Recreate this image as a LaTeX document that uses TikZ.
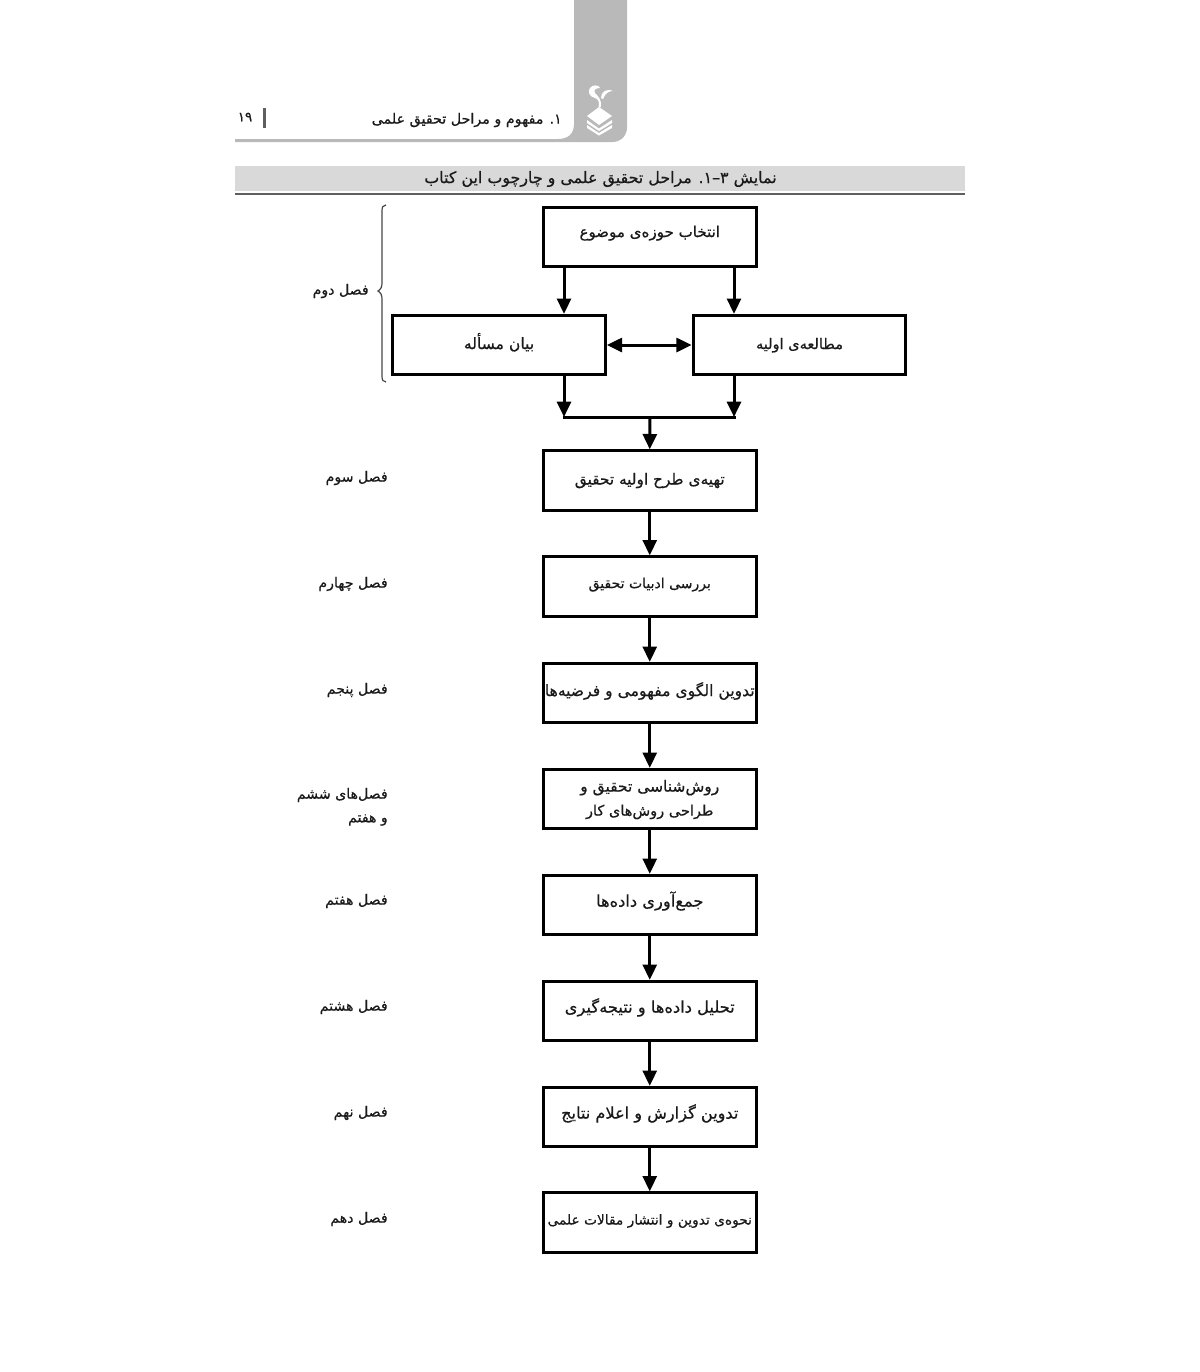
\documentclass[tikz,border=0pt]{standalone}
\usepackage{fontspec}
\usetikzlibrary{arrows.meta}
\TeXXeTstate=1
\newfontfamily\fa[Script=Arabic,FakeBold=0.5]{DejaVu Sans}
\definecolor{tabgray}{HTML}{B9B9B9}
\definecolor{bandgray}{HTML}{D9D9D9}
\definecolor{inkgray}{HTML}{1A1A1A}
\newcommand\fs[1]{\fontsize{#1}{#1}\selectfont}
% one line, size #1, baseline lifted by #2 over the centre of the box
\newcommand\boxline[3]{\makebox[0pt]{\raisebox{#2}[0pt][0pt]{\fs{#1}#3}}}
\tikzset{
  x=0.75pt,y=-0.75pt,
  stepbox/.style={draw=black,line width=2.25pt,fill=white,inner sep=0pt,font=\fa,text=inkgray},
  wide/.style={stepbox,minimum width=159.5pt,minimum height=44.5pt},
  arr/.style={line width=2.25pt,-{Triangle[length=11.5pt,width=10.5pt]}},
  both/.style={line width=2.25pt,{Triangle[length=11.5pt,width=10.5pt]}-{Triangle[length=11.5pt,width=10.5pt]}},
  side/.style={anchor=east,inner sep=0pt,font=\fa\fs{10.6},text=inkgray},
}
\begin{document}
\begin{tikzpicture}
\useasboundingbox (0,0) rectangle (1200,1372);
\fill[white] (0,0) rectangle (1200,1372);
% header
\fill[tabgray] (574,0) -- (574,124) .. controls (574,134) and (568,139) .. (558,139) -- (235,139) -- (235,142) -- (612,142) .. controls (621,142) and (627,136) .. (627,127) -- (627,0) -- cycle;
\fill[inkgray!70] (262.5,108) rectangle (265.5,128);
\node[anchor=center,inner sep=0pt,font=\fa\fs{10},text=inkgray] (pageno) at (245,117) {۱۹};
\node[anchor=east,inner sep=0pt,font=\fa\fs{10.7},text=inkgray] (runhead) at (562,120) {\beginR ۱. مفهوم و مراحل تحقیق علمی\endR};
% logo
\fill[white] (599,107) -- (612,116) -- (599,125) -- (587,116) -- cycle;
\fill[white] (587,120) -- (599,128.5) -- (612,120) -- (612,123) -- (599,131) -- (587,123) -- cycle;
\fill[white] (587,125) -- (599,133) -- (612,125) -- (612,128) -- (599,135.5) -- (587,128) -- cycle;
\fill[white] (598.5,107) .. controls (600,102) and (598,99) .. (595,98) .. controls (590,97) and (587,92) .. (590,88) .. controls (593,84) and (599,85) .. (600,88) .. controls (596,88) and (593,90) .. (595,93) .. controls (598,96) and (602,100) .. (601,107) -- cycle;
\fill[white] (601,98) .. controls (601,92) and (606,88) .. (613,91) .. controls (608,91) and (605,94) .. (603,99) -- cycle;
% caption band
\fill[bandgray] (235,166) rectangle (965,191);
\draw[inkgray!70,line width=0.9pt] (235,194) -- (965,194);
\node[inner sep=0pt,font=\fa\fs{11.9},text=inkgray] (caption) at (600.5,179) {\beginR نمایش ۳–۱. مراحل تحقیق علمی و چارچوب این کتاب\endR};
% boxes
\node[wide] (a)  at (649.75,237)   {\boxline{11.3}{0pt}{\beginR انتخاب حوزه‌ی موضوع\endR}};
\node[wide] (b)  at (499,345)   {\boxline{11.7}{-3pt}{\beginR بیان مسأله\endR}};
\node[wide] (c)  at (799.5,345) {\boxline{10.9}{-3pt}{\beginR مطالعه‌ی اولیه\endR}};
\node[wide] (d)  at (649.75,480.5) {\boxline{11.5}{-3pt}{\beginR تهیه‌ی طرح اولیه تحقیق\endR}};
\node[wide] (e)  at (649.75,586.5) {\boxline{10.5}{-1.25pt}{\beginR بررسی ادبیات تحقیق\endR}};
\node[wide] (f)  at (649.75,693)   {\boxline{11.7}{-2.25pt}{\beginR تدوین الگوی مفهومی و فرضیه‌ها\endR}};
\node[wide] (g)  at (649.75,799)   {\boxline{11.6}{5.5pt}{\beginR روش‌شناسی تحقیق و\endR}\boxline{10.9}{-12.5pt}{\beginR طراحی روش‌های کار\endR}};
\node[wide] (h)  at (649.75,905)   {\boxline{12.2}{-1.25pt}{\beginR جمع‌آوری داده‌ها\endR}};
\node[wide] (i)  at (649.75,1011)  {\boxline{12.2}{-1.25pt}{\beginR تحلیل داده‌ها و نتیجه‌گیری\endR}};
\node[wide] (j)  at (649.75,1117)  {\boxline{12.1}{-1.25pt}{\beginR تدوین گزارش و اعلام نتایج\endR}};
\node[wide] (k)  at (649.75,1222.5){\boxline{10.3}{-1.5pt}{\beginR نحوه‌ی تدوین و انتشار مقالات علمی\endR}};
% junction coordinates
\coordinate (jl) at (564,417);
\coordinate (jr) at (734,417);
\coordinate (jm) at (650,417);
% connectors
\draw[arr] (a.south -| jl) -- (b.north -| jl);
\draw[arr] (a.south -| jr) -- (c.north -| jr);
\draw[both] (b.east) -- (c.west);
\draw[arr] (b.south -| jl) -- (jl);
\draw[arr] (c.south -| jr) -- (jr);
\draw[line width=2.25pt,line cap=rect] (jl) -- (jr);
\draw[arr] (jm) -- (d.north);
\draw[arr] (d) -- (e);
\draw[arr] (e) -- (f);
\draw[arr] (f) -- (g);
\draw[arr] (g) -- (h);
\draw[arr] (h) -- (i);
\draw[arr] (i) -- (j);
\draw[arr] (j) -- (k);
% brace
\draw[inkgray!80,line width=0.9pt] (386,205) .. controls (383,205) and (382,207) .. (382,211) -- (382,283) .. controls (382,287) and (381,289) .. (378,291) .. controls (381,293) and (382,295) .. (382,299) -- (382,376) .. controls (382,380) and (383,382) .. (386,382);
% side labels
\node[side] (s2) at (369,291) {\beginR فصل دوم\endR};
\node[side] (s3) at (388,478) {\beginR فصل سوم\endR};
\node[side] (s4) at (388,584) {\beginR فصل چهارم\endR};
\node[side] (s5) at (388,690) {\beginR فصل پنجم\endR};
\node[side] (s6a) at (388,795) {\beginR فصل‌های ششم\endR};
\node[side] (s6b) at (388,820) {\beginR و هفتم\endR};
\node[side] (s7) at (388,901) {\beginR فصل هفتم\endR};
\node[side] (s8) at (388,1007) {\beginR فصل هشتم\endR};
\node[side] (s9) at (388,1113) {\beginR فصل نهم\endR};
\node[side] (s10) at (388,1219) {\beginR فصل دهم\endR};
\end{tikzpicture}
\end{document}
